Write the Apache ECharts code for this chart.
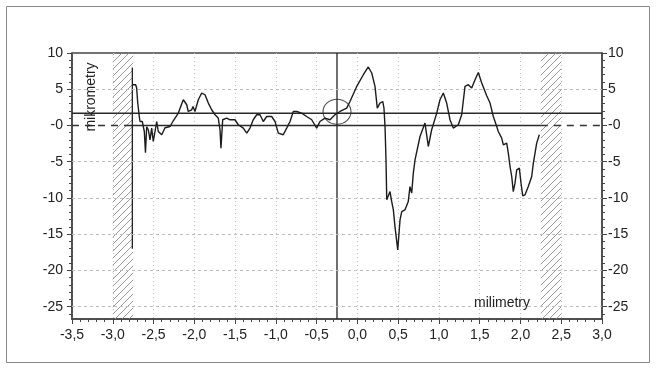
<!DOCTYPE html>
<html>
<head>
<meta charset="utf-8">
<style>
  html, body { margin: 0; padding: 0; background: #fff; }
  #chart { width: 656px; height: 370px; }
</style>
<script src="https://cdn.jsdelivr.net/npm/echarts@6/dist/echarts.min.js"></script>
</head>
<body>
<div id="chart"></div>
<script>
// Axis ranges and tick values
const X_MIN = -3.5, X_MAX = 3.0, X_STEP = 0.5;
const Y_MIN = -26.7, Y_MAX = 10;
const yMajor = [-25, -20, -15, -10, -5, 0, 5, 10];
const yMinor = [-26, -25, -24, -23, -22, -21, -20, -19, -18, -17, -16, -15, -14, -13, -12, -11,
  -10, -9, -8, -7, -6, -5, -4, -3, -2, -1, 0, 1, 2, 3, 4, 5, 6, 7, 8, 9, 10];

// Measured surface profile [mm, µm]
const profile = [
  [-2.760, 5.62], [-2.719, 5.62], [-2.707, 5.17], [-2.694, 3.14], [-2.675, 1.24], [-2.666, 0.55],
  [-2.638, 0.55], [-2.613, -0.83], [-2.599, -3.77], [-2.584, -0.18], [-2.564, -0.59], [-2.543, -1.98],
  [-2.523, -0.36], [-2.503, -2.21], [-2.461, 0.55], [-2.442, -0.83], [-2.400, -1.28], [-2.359, -0.32],
  [-2.298, -0.14], [-2.258, 0.65], [-2.237, 0.79], [-2.196, 1.71], [-2.163, 2.72], [-2.135, 3.55],
  [-2.093, 2.86], [-2.074, 1.93], [-2.032, 2.17], [-2.016, 2.62], [-1.992, 1.93], [-1.951, 3.55],
  [-1.909, 4.48], [-1.869, 4.24], [-1.828, 3.09], [-1.787, 2.17], [-1.746, 1.48], [-1.706, 1.02],
  [-1.685, -0.59], [-1.673, -3.12], [-1.652, 0.79], [-1.603, 1.02], [-1.562, 0.79], [-1.501, 0.79],
  [-1.461, 0.10], [-1.399, -0.36], [-1.357, -1.05], [-1.317, -0.36], [-1.277, 0.79], [-1.235, 1.48],
  [-1.194, 1.48], [-1.154, 0.55], [-1.112, 1.24], [-1.051, 1.24], [-1.010, 0.55], [-0.970, -1.05],
  [-0.909, -1.28], [-0.867, -0.36], [-0.826, 0.55], [-0.786, 1.93], [-0.744, 1.93], [-0.683, 1.71],
  [-0.622, 1.24], [-0.560, 0.79], [-0.499, -0.36], [-0.459, 0.55], [-0.397, 1.02], [-0.336, 0.79],
  [-0.275, 1.48], [-0.213, 1.93], [-0.131, 2.40], [-0.091, 3.31], [-0.008, 5.39], [0.073, 7.00],
  [0.134, 8.07], [0.176, 7.24], [0.216, 5.39], [0.244, 2.40], [0.277, 3.09], [0.311, 3.31],
  [0.326, 2.40], [0.339, -0.14], [0.351, -4.74], [0.360, -10.26], [0.400, -9.12], [0.421, -10.50],
  [0.441, -11.64], [0.461, -13.95], [0.495, -17.16], [0.523, -13.02], [0.544, -11.88], [0.584, -11.64],
  [0.624, -10.50], [0.645, -8.43], [0.666, -9.34], [0.686, -6.57], [0.707, -4.74], [0.768, -1.52],
  [0.829, 0.33], [0.870, -2.90], [0.911, -0.59], [0.973, 1.71], [1.013, 3.55], [1.054, 4.48],
  [1.095, 3.09], [1.136, 0.79], [1.176, -0.36], [1.238, 0.10], [1.279, 1.48], [1.320, 5.39],
  [1.360, 5.62], [1.402, 5.17], [1.443, 6.31], [1.483, 7.32], [1.525, 5.86], [1.586, 4.10],
  [1.627, 3.09], [1.667, 1.24], [1.709, -0.14], [1.728, -0.83], [1.770, -1.74], [1.790, -2.67],
  [1.831, -2.43], [1.851, -3.81], [1.872, -5.66], [1.893, -7.04], [1.912, -9.12], [1.933, -7.96],
  [1.954, -6.12], [1.986, -5.88], [2.007, -7.96], [2.028, -9.71], [2.056, -9.57], [2.096, -8.43],
  [2.138, -7.04], [2.158, -5.19], [2.199, -2.43], [2.231, -1.28]
];

// Auxiliary markers
const edgeMarker = [[-2.76, -17], [-2.76, 8]];
const refLevel = 1.7;
const cursorX = -0.25;
const circleCenter = [-0.25, 1.9];
const zeroSolidRange = [-2.85, 2.25];
const hatchBands = [[-3.0, -2.75], [2.25, 2.5]];

// Diagonal hatch pattern for the excluded zones
function hatchPattern() {
  const c = document.createElement('canvas');
  c.width = 7; c.height = 7;
  const g = c.getContext('2d');
  g.strokeStyle = '#8c8c8c';
  g.lineWidth = 0.9;
  g.beginPath();
  g.moveTo(0, 7); g.lineTo(7, 0);
  g.moveTo(-1, 1); g.lineTo(1, -1);
  g.moveTo(6, 8); g.lineTo(8, 6);
  g.stroke();
  return { image: c, repeat: 'repeat' };
}

const FONT = 'Liberation Sans, Arial, sans-serif';
const AXIS_COLOR = '#444';
const yFmt = v => (v === 0 ? '-0' : String(v));

function yMajorAxis(pos, margin) {
  return {
    type: 'value', position: pos, min: Y_MIN, max: Y_MAX,
    axisLine: { show: true, onZero: false, lineStyle: { color: AXIS_COLOR, width: 1.5 } },
    axisTick: { show: true, customValues: yMajor, length: 5, lineStyle: { color: AXIS_COLOR, width: 1 } },
    axisLabel: { customValues: yMajor, formatter: yFmt, margin: margin, fontSize: 14, color: '#222', fontFamily: FONT },
    splitLine: { show: false }
  };
}
function yMinorAxis(pos) {
  return {
    type: 'value', position: pos, min: Y_MIN, max: Y_MAX,
    axisLine: { show: false, onZero: false },
    axisTick: { show: true, customValues: yMinor, length: 3, lineStyle: { color: AXIS_COLOR, width: 1 } },
    axisLabel: { show: false },
    splitLine: { show: false }
  };
}

function seg(data, style, z) {
  return {
    type: 'line', data: data, showSymbol: false, symbol: 'none', silent: true,
    animation: false, lineStyle: style, z: z || 3
  };
}

const chart = echarts.init(document.getElementById('chart'), null, { renderer: 'canvas' });

const dashedZero = { color: '#333', width: 1.5, type: [7, 6] };
const solidRef = { color: '#2a2a2a', width: 1.5 };

chart.setOption({
  animation: false,
  backgroundColor: '#fff',
  textStyle: { fontFamily: FONT },
  grid: { left: 72, right: 54, top: 53, bottom: 51, show: true, borderColor: AXIS_COLOR, borderWidth: 1.5 },
  xAxis: {
    type: 'value', min: X_MIN, max: X_MAX, interval: X_STEP,
    axisLine: { show: true, onZero: false, lineStyle: { color: AXIS_COLOR, width: 1.5 } },
    axisTick: { show: true, length: 5, lineStyle: { color: AXIS_COLOR, width: 1 } },
    minorTick: { show: true, splitNumber: 5, length: 3, lineStyle: { color: AXIS_COLOR, width: 1 } },
    axisLabel: {
      formatter: v => v.toFixed(1).replace('.', ','),
      margin: 9, fontSize: 14, color: '#222', fontFamily: FONT,
      showMinLabel: true, showMaxLabel: true
    },
    splitLine: { show: true, lineStyle: { color: '#bdbdbd', type: [1, 3], width: 1 } }
  },
  yAxis: [yMajorAxis('left', 9), yMinorAxis('left'), yMajorAxis('right', 6), yMinorAxis('right')],
  graphic: [
    { type: 'rect', shape: { x: 6.5, y: 6.5, width: 643, height: 356 },
      style: { fill: 'none', stroke: '#8a8a8a', lineWidth: 1 }, silent: true, z: 0 },
    { type: 'text', x: 91, y: 97, rotation: Math.PI / 2,
      style: { text: 'mikrometry', fontSize: 14, fontFamily: FONT, fill: '#222', align: 'center', verticalAlign: 'middle' }, z: 10 },
    { type: 'text', x: 502, y: 303,
      style: { text: 'milimetry', fontSize: 14, fontFamily: FONT, fill: '#222', align: 'center', verticalAlign: 'middle' }, z: 10 }
  ],
  series: [
    {
      // horizontal grid lines (zero level has its own line) and hatched zones
      type: 'line', data: [], silent: true,
      markLine: {
        silent: true, symbol: 'none', animation: false, label: { show: false },
        lineStyle: { color: '#bdbdbd', type: [3, 3], width: 1 },
        data: yMajor.filter(v => v < Y_MAX && v !== 0).map(v => ({ yAxis: v }))
      },
      markArea: {
        silent: true, animation: false, label: { show: false },
        itemStyle: { color: hatchPattern(), borderWidth: 0 },
        data: hatchBands.map(b => [{ xAxis: b[0] }, { xAxis: b[1] }])
      },
      z: 1
    },
    seg([[X_MIN, 0], [zeroSolidRange[0], 0]], dashedZero, 2),
    seg([[zeroSolidRange[1], 0], [X_MAX, 0]], dashedZero, 2),
    seg([[zeroSolidRange[0], 0], [zeroSolidRange[1], 0]], solidRef, 3),
    seg([[X_MIN, refLevel], [X_MAX, refLevel]], solidRef, 3),
    seg([[cursorX, Y_MIN], [cursorX, Y_MAX]], { color: '#222', width: 1.3 }, 3),
    seg(edgeMarker, { color: '#222', width: 1.3 }, 4),
    {
      type: 'line', data: profile, showSymbol: false, symbol: 'none', silent: true,
      lineStyle: { color: '#1c1c1c', width: 1.4 }, z: 5
    },
    {
      type: 'scatter', data: [circleCenter], symbol: 'circle', symbolSize: [28, 25], silent: true,
      itemStyle: { color: 'rgba(0,0,0,0)', borderColor: '#222', borderWidth: 1 }, z: 6
    }
  ]
});
</script>
</body>
</html>
